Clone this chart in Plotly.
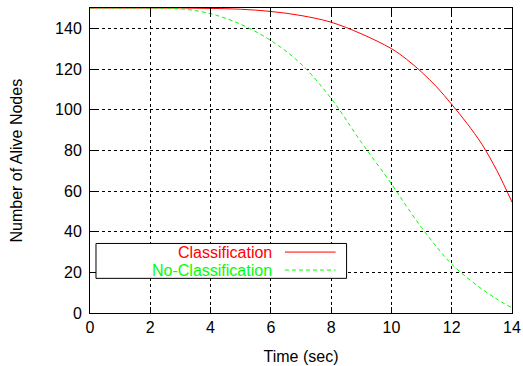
import plotly.graph_objects as go

# Data
time_sec = [0, 1, 2, 3, 4, 5, 6, 7, 8, 9, 10, 10.5, 11, 11.5, 12, 12.5, 13, 13.5, 14]
classification = [150, 150, 150, 150, 149.8, 149.4, 148.3, 146.3, 143, 137.3, 130, 124.8, 118.5, 111.2, 102.6, 93.4, 83, 70, 54.5]
no_classification = [150, 150, 150, 149.6, 147.2, 142, 134, 122.5, 105.5, 84, 63.5, 52.5, 42, 32.5, 24, 17.5, 11.8, 6.8, 2.5]

series_names = ["Classification", "No-Classification"]
series_colors = ["#ff0000", "#00ff00"]
series_dash = ["solid", "4px,3px"]

x_ticks = [0, 2, 4, 6, 8, 10, 12, 14]
y_ticks = [0, 20, 40, 60, 80, 100, 120, 140]

FONT = "Liberation Sans, Arial, Helvetica, sans-serif"
FS = 16

fig = go.Figure()
for name, ys, col, dash in zip(series_names, [classification, no_classification], series_colors, series_dash):
    fig.add_trace(go.Scatter(x=time_sec, y=ys, mode="lines", name=name,
                             line=dict(color=col, width=1, dash=dash, shape="spline", smoothing=1.0),
                             showlegend=False, hoverinfo="skip"))

axis_common = dict(showline=True, linecolor="black", linewidth=1, mirror="allticks",
                   ticks="inside", ticklen=6, tickcolor="black",
                   showgrid=True, gridcolor="black", gridwidth=1, griddash="dot",
                   zeroline=False, automargin=False,
                   tickfont=dict(size=FS, color="black", family=FONT))

fig.update_xaxes(range=[0, 14], tickvals=x_ticks,
                 title=dict(text="Time (sec)", font=dict(size=FS, family=FONT, color="black")), **axis_common)
fig.update_yaxes(range=[0, 150], tickvals=y_ticks, ticklabelstandoff=4, **axis_common)

# Manual gnuplot-style legend (box, right-aligned text, sample lines)
shapes = [dict(type="rect", xref="paper", yref="paper", x0=0.0142, x1=0.608, y0=0.1136, y1=0.228,
               line=dict(color="black", width=1), fillcolor="white", layer="above")]
annotations = [dict(xref="paper", yref="paper", x=-0.173, y=0.5, text="Number of Alive Nodes",
                    showarrow=False, textangle=-90, xanchor="center", yanchor="middle",
                    font=dict(size=FS, color="black", family=FONT))]
rows_y = [0.1997, 0.1408]
for name, col, dash, ry in zip(series_names, series_colors, series_dash, rows_y):
    shapes.append(dict(type="line", xref="paper", yref="paper", x0=0.462, x1=0.582, y0=ry, y1=ry,
                       line=dict(color=col, width=1, dash=dash), layer="above"))
    annotations.append(dict(xref="paper", yref="paper", x=0.436, y=ry, text=name, showarrow=False,
                            xanchor="right", yanchor="middle", font=dict(size=FS, color=col, family=FONT)))

fig.update_layout(width=523, height=366, margin=dict(l=90, r=11, t=8, b=53),
                  plot_bgcolor="white", paper_bgcolor="white",
                  font=dict(family=FONT, color="black"),
                  shapes=shapes, annotations=annotations, hovermode=False)

fig.write_html("out.html", config={"displayModeBar": False},
               post_script="document.body.style.margin='0';document.body.style.overflow='hidden';")
